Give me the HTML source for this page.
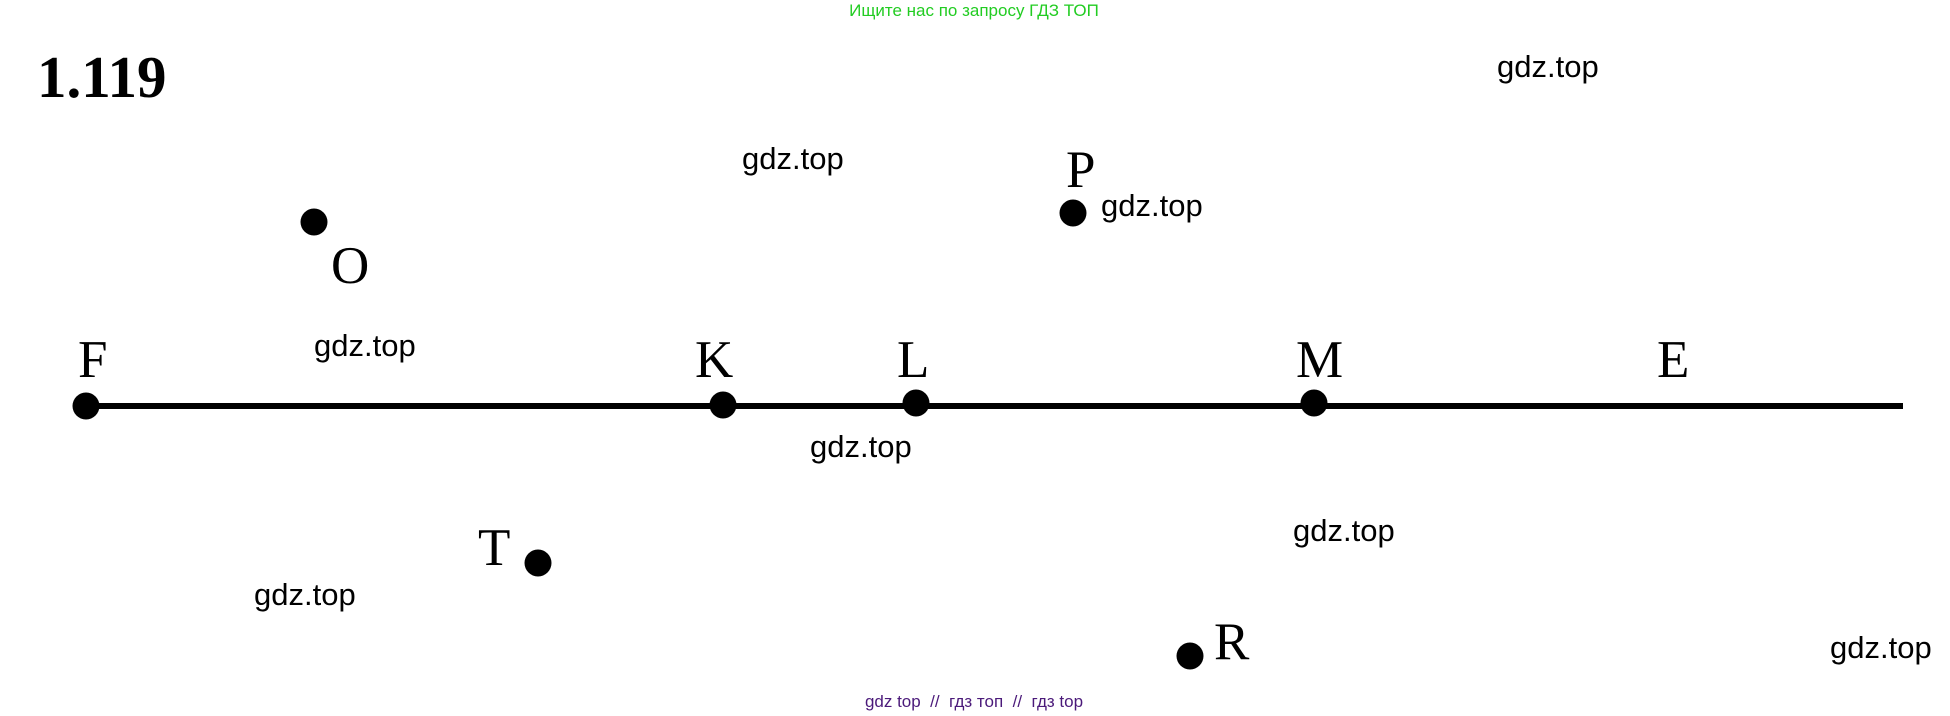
<!DOCTYPE html>
<html><head><meta charset="utf-8"><style>
html,body{margin:0;padding:0;background:#fff;width:1950px;height:716px;overflow:hidden}
svg{display:block}
.s{font-family:"Liberation Serif",serif;font-size:53px;fill:#000}
.w{font-family:"Liberation Sans",sans-serif;font-size:31px;fill:#000}
</style></head><body>
<svg width="1950" height="716" viewBox="0 0 1950 716" xmlns="http://www.w3.org/2000/svg">
<rect width="1950" height="716" fill="#fff"/>
<text x="974" y="16" text-anchor="middle" font-family="Liberation Sans,sans-serif" font-size="17" fill="#22cc22">Ищите нас по запросу ГДЗ ТОП</text>
<text x="974" y="707" text-anchor="middle" font-family="Liberation Sans,sans-serif" font-size="17" fill="#4b1a7a" xml:space="preserve">gdz top  //  гдз топ  //  гдз top</text>
<text x="37" y="97" font-family="Liberation Serif,serif" font-weight="bold" font-size="59">1.119</text>
<line x1="85" y1="406" x2="1903" y2="406" stroke="#000" stroke-width="6"/>
<g fill="#000">
<circle cx="86" cy="406" r="13.5"/>
<circle cx="723" cy="405" r="13.5"/>
<circle cx="916" cy="403" r="13.5"/>
<circle cx="1314" cy="403" r="13.5"/>
<circle cx="314" cy="222" r="13.5"/>
<circle cx="538" cy="563" r="13.5"/>
<circle cx="1073" cy="213" r="13.5"/>
<circle cx="1190" cy="656" r="13.5"/>
</g>
<text class="s" x="78" y="377">F</text>
<text class="s" x="331" y="283">O</text>
<text class="s" x="695" y="377">K</text>
<text class="s" x="897" y="377">L</text>
<text class="s" x="478" y="565">T</text>
<text class="s" x="1066" y="187">P</text>
<text class="s" x="1296" y="377">M</text>
<text class="s" x="1657" y="377">E</text>
<text class="s" x="1214" y="659">R</text>
<text class="w" x="742" y="169">gdz.top</text>
<text class="w" x="314" y="356">gdz.top</text>
<text class="w" x="810" y="457">gdz.top</text>
<text class="w" x="254" y="605">gdz.top</text>
<text class="w" x="1497" y="77">gdz.top</text>
<text class="w" x="1101" y="216">gdz.top</text>
<text class="w" x="1293" y="541">gdz.top</text>
<text class="w" x="1830" y="658">gdz.top</text>
</svg>
</body></html>
